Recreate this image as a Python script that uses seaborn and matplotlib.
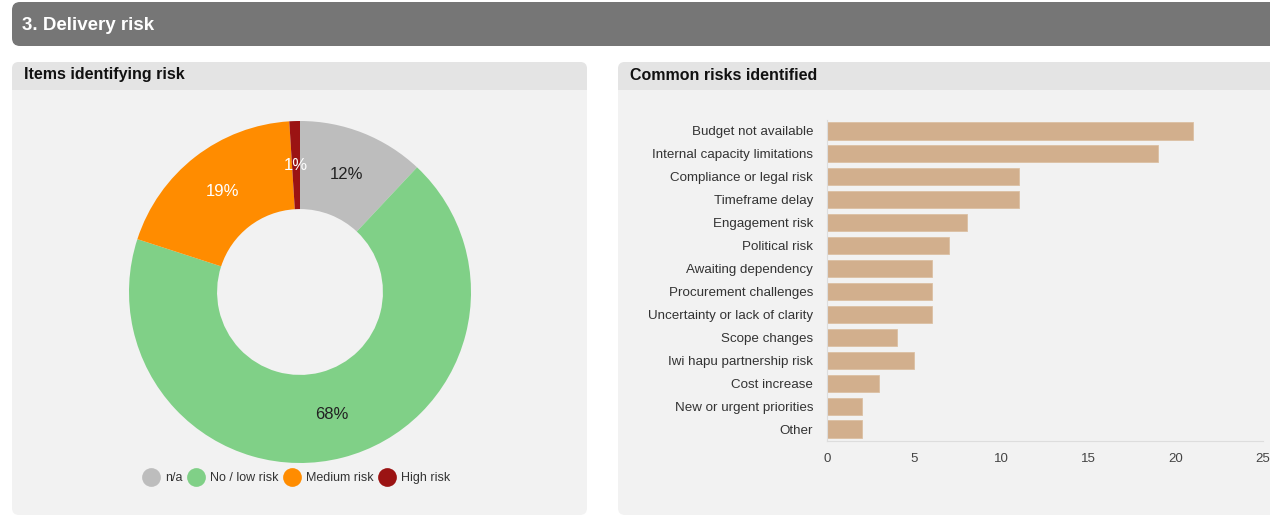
import matplotlib
matplotlib.use("Agg")
import matplotlib.pyplot as plt
from matplotlib.patches import FancyBboxPatch, Rectangle
from matplotlib.lines import Line2D
import seaborn as sns
import pandas as pd

# ---- data -------------------------------------------------------------
risk_levels = ["n/a", "No / low risk", "Medium risk", "High risk"]
risk_share = [12, 68, 19, 1]
risk_colors = ["#bdbdbd", "#80d087", "#ff8c00", "#9b1313"]
label_colors = ["#222222", "#222222", "#ffffff", "#ffffff"]

risk_names = [
    "Budget not available",
    "Internal capacity limitations",
    "Compliance or legal risk",
    "Timeframe delay",
    "Engagement risk",
    "Political risk",
    "Awaiting dependency",
    "Procurement challenges",
    "Uncertainty or lack of clarity",
    "Scope changes",
    "Iwi hapu partnership risk",
    "Cost increase",
    "New or urgent priorities",
    "Other",
]
risk_counts = [21, 19, 11, 11, 8, 7, 6, 6, 6, 4, 5, 3, 2, 2]
x_ticks = [0, 5, 10, 15, 20, 25]

# ---- figure -----------------------------------------------------------
sns.set_theme(style="white")
plt.rcParams["font.family"] = ["Liberation Sans", "DejaVu Sans"]

W, H = 1270, 516
fig = plt.figure(figsize=(W / 100, H / 100), dpi=100, facecolor="white")

# background layer in pixel coordinates
bg = fig.add_axes([0, 0, 1, 1], zorder=0)
bg.set_xlim(0, W)
bg.set_ylim(H, 0)
bg.axis("off")


def rounded(x0, y0, x1, y1, color, r=7):
    bg.add_patch(FancyBboxPatch((x0 + r, y0 + r), (x1 - x0) - 2 * r, (y1 - y0) - 2 * r,
                                boxstyle=f"round,pad={r}", linewidth=0,
                                facecolor=color, mutation_aspect=1))


# section header
rounded(12, 2, W + 20, 46, "#767676", r=8)
bg.text(22, 25, "3. Delivery risk", color="white", fontsize=13.5,
        fontweight="bold", va="center", ha="left")

# panels
for x0, x1, title in [(12, 587, "Items identifying risk"),
                      (618, W + 20, "Common risks identified")]:
    rounded(x0, 62, x1, 515, "#f2f2f2", r=7)
    rounded(x0, 62, x1, 90, "#e4e4e4", r=7)
    bg.add_patch(Rectangle((x0, 80), x1 - x0, 10, facecolor="#e4e4e4", linewidth=0))
    bg.text(x0 + 12, 75, title, color="#111111", fontsize=11.5,
            fontweight="bold", va="center", ha="left")

# ---- donut chart ------------------------------------------------------
cx, cy, R = 300, 292, 171
ax_pie = fig.add_axes([(cx - R) / W, 1 - (cy + R) / H, 2 * R / W, 2 * R / H], zorder=2)
ax_pie.patch.set_alpha(0)
wedges, _, autotexts = ax_pie.pie(
    risk_share, colors=risk_colors, startangle=90, counterclock=False,
    radius=1, wedgeprops=dict(width=0.515, linewidth=0),
    autopct=lambda p: f"{p:.0f}%", pctdistance=0.742,
    textprops=dict(fontsize=12))
for t, c in zip(autotexts, label_colors):
    t.set_color(c)
ax_pie.set_xlim(-1, 1)
ax_pie.set_ylim(-1, 1)
ax_pie.set_aspect("equal")

handles = [Line2D([0], [0], marker="o", linestyle="", markersize=13.5,
                  markerfacecolor=c, markeredgewidth=0) for c in risk_colors]
fig.legend(handles, risk_levels, loc="center", bbox_to_anchor=(296 / W, 1 - 478 / H),
           ncol=4, frameon=False, fontsize=9, handletextpad=0.4,
           columnspacing=0.3, handlelength=1.5, labelcolor="#333333")

# ---- horizontal bar chart --------------------------------------------
x0_px, x1_px = 827, 1263
top_px, bot_px = 119.5, 440.5
ax_bar = fig.add_axes([x0_px / W, 1 - bot_px / H, (x1_px - x0_px) / W,
                       (bot_px - top_px) / H], zorder=2)
ax_bar.patch.set_alpha(0)

df = pd.DataFrame({"risk": risk_names, "count": risk_counts})
sns.barplot(data=df, x="count", y="risk", orient="h", color="#d2af8d",
            saturation=1, width=0.75, ax=ax_bar, edgecolor="#dcc0a3",
            linewidth=0.6)
ax_bar.set_xlim(0, 25)
ax_bar.set_xticks(x_ticks)
ax_bar.set_xlabel("")
ax_bar.set_ylabel("")
for s in ["top", "right"]:
    ax_bar.spines[s].set_visible(False)
for s in ["left", "bottom"]:
    ax_bar.spines[s].set_color("#dddddd")
    ax_bar.spines[s].set_linewidth(0.8)
ax_bar.tick_params(axis="x", length=0, pad=9, labelsize=9.5, labelcolor="#444444")
ax_bar.tick_params(axis="y", length=0, pad=10, labelsize=9.6, labelcolor="#333333")
ax_bar.grid(False)

fig.savefig("out.png", dpi=100, facecolor="white")
